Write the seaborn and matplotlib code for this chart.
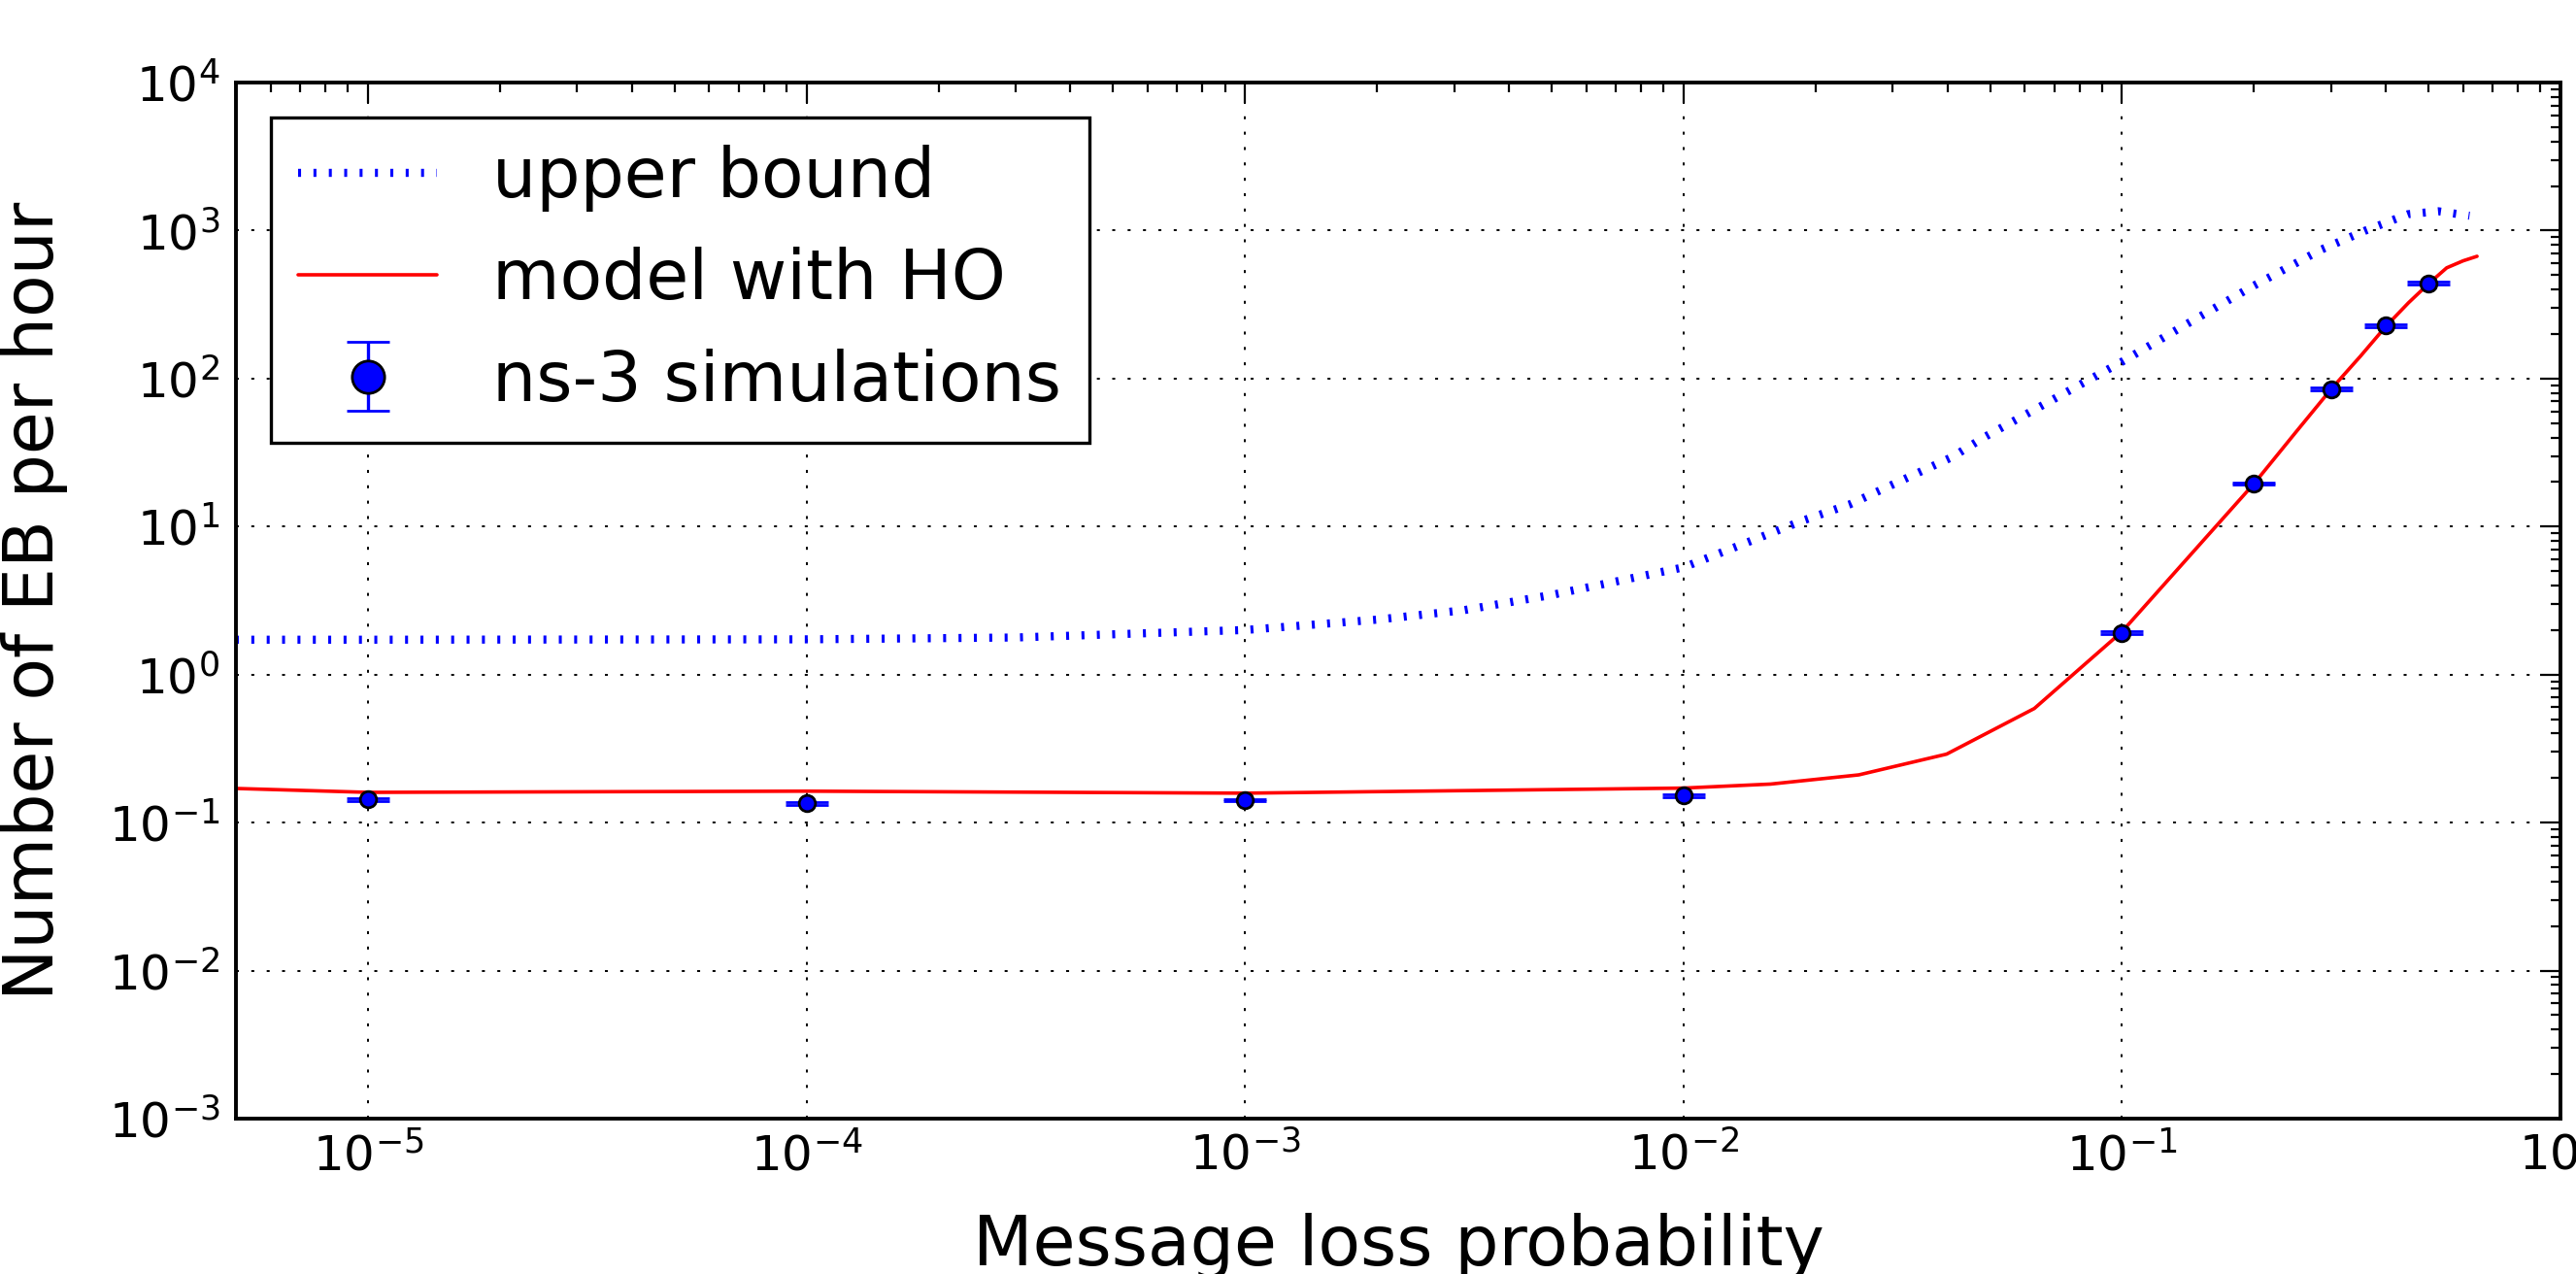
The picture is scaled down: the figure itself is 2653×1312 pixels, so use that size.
import matplotlib
matplotlib.use('Agg')  # no display in the sandbox

import matplotlib.pyplot as plt
import seaborn as sns
import pandas as pd

# upper bound (dotted blue)
bound_p = [5e-6, 1e-5, 1e-4, 3e-4, 1e-3, 2e-3, 3.15e-3, 5e-3, 1e-2, 1.875e-2, 2.39e-2,
           4.1e-2, 4.86e-2, 0.1, 0.141, 0.175, 0.2, 0.285, 0.359, 0.449, 0.526, 0.62]
bound_eb = [1.72, 1.72, 1.73, 1.78, 2.0, 2.35, 2.72, 3.45, 5.3, 11.0, 14.1,
            29.5, 40.3, 130, 235, 339, 425, 745, 1000, 1290, 1350, 1260]

# model with HO (red)
model_p = [5e-6, 1e-5, 1e-4, 1e-3, 1e-2, 0.0158, 0.0251, 0.0398, 0.0631, 0.1, 0.15,
           0.2, 0.25, 0.3, 0.35, 0.4, 0.45, 0.5, 0.55, 0.6, 0.645]
model_eb = [0.170, 0.160, 0.163, 0.158, 0.171, 0.182, 0.21, 0.29, 0.59, 1.95, 7.5,
            19.5, 44, 85, 142, 226, 325, 437, 560, 625, 670]

# ns-3 simulations
sim_p = [1e-5, 1e-4, 1e-3, 1e-2, 0.1, 0.2, 0.3, 0.4, 0.5]
sim_eb = [0.143, 0.135, 0.142, 0.152, 1.92, 19.5, 85, 228, 440]
sim_err = [0.003, 0.003, 0.003, 0.003, 0.04, 0.4, 1.7, 4.5, 9.0]


def setStyle():
    sns.set_style('white')
    # set_style resets the font family and colours, so set them afterwards
    plt.rcParams['font.family'] = ['DejaVu Sans']
    plt.rcParams['text.color'] = 'k'
    plt.rcParams['axes.labelcolor'] = 'k'
    plt.rcParams['xtick.color'] = 'k'
    plt.rcParams['ytick.color'] = 'k'
    plt.rcParams['axes.unicode_minus'] = False
    plt.rcParams['lines.scale_dashes'] = False


def main():
    setStyle()
    bound = pd.DataFrame({'p': bound_p, 'eb': bound_eb})
    model = pd.DataFrame({'p': model_p, 'eb': model_eb})

    fig, ax = plt.subplots(figsize=(13.265, 6.56), dpi=200)
    fig.subplots_adjust(left=0.0916, right=0.994, bottom=0.122, top=0.9352)

    sns.lineplot(data=bound, x='p', y='eb', ax=ax, color='b', lw=3.0,
                 linestyle=(0, (1.1, 4.6)), errorbar=None, label='upper bound')
    sns.lineplot(data=model, x='p', y='eb', ax=ax, color='r', lw=1.3,
                 errorbar=None, label='model with HO')
    ax.errorbar(sim_p, sim_eb, yerr=sim_err, fmt='o', color='b', ecolor='b',
                ms=6, mec='k', mew=1.0, elinewidth=1.2, capsize=8, capthick=1.2,
                label='ns-3 simulations', zorder=5)

    ax.set_xscale('log')
    ax.set_yscale('log')
    ax.set_xlim(5e-6, 1)
    ax.set_ylim(1e-3, 1e4)

    ax.grid(True, which='major', color='k', linestyle=(0, (1.1, 4.6)), linewidth=0.7)
    for s in ax.spines.values():
        s.set_color('k')
        s.set_linewidth(1.4)

    ax.tick_params(which='both', direction='in', top=True, right=True,
                   width=0.8, color='k', labelcolor='k', labelsize=18)
    ax.tick_params(which='major', length=7.5)
    ax.tick_params(which='minor', length=3.6)
    ax.tick_params(axis='x', which='major', pad=5)
    ax.tick_params(axis='y', which='major', pad=6)

    ax.set_xlabel('Message loss probability', fontsize=25.7, labelpad=12, color='k')
    ax.set_ylabel('Number of EB per hour', fontsize=25.7, labelpad=15, color='k')

    leg = ax.legend(loc='upper left', fontsize=25.7, numpoints=1, markerscale=2,
                    handlelength=2, handletextpad=0.8, borderpad=0.4,
                    labelspacing=0.5, borderaxespad=0.5, fancybox=False,
                    framealpha=1, edgecolor='k')
    leg.get_frame().set_linewidth(1.2)
    for t in leg.get_texts():
        t.set_color('k')

    fig.savefig('out.png', dpi=200)


if __name__ == "__main__":
    main()
